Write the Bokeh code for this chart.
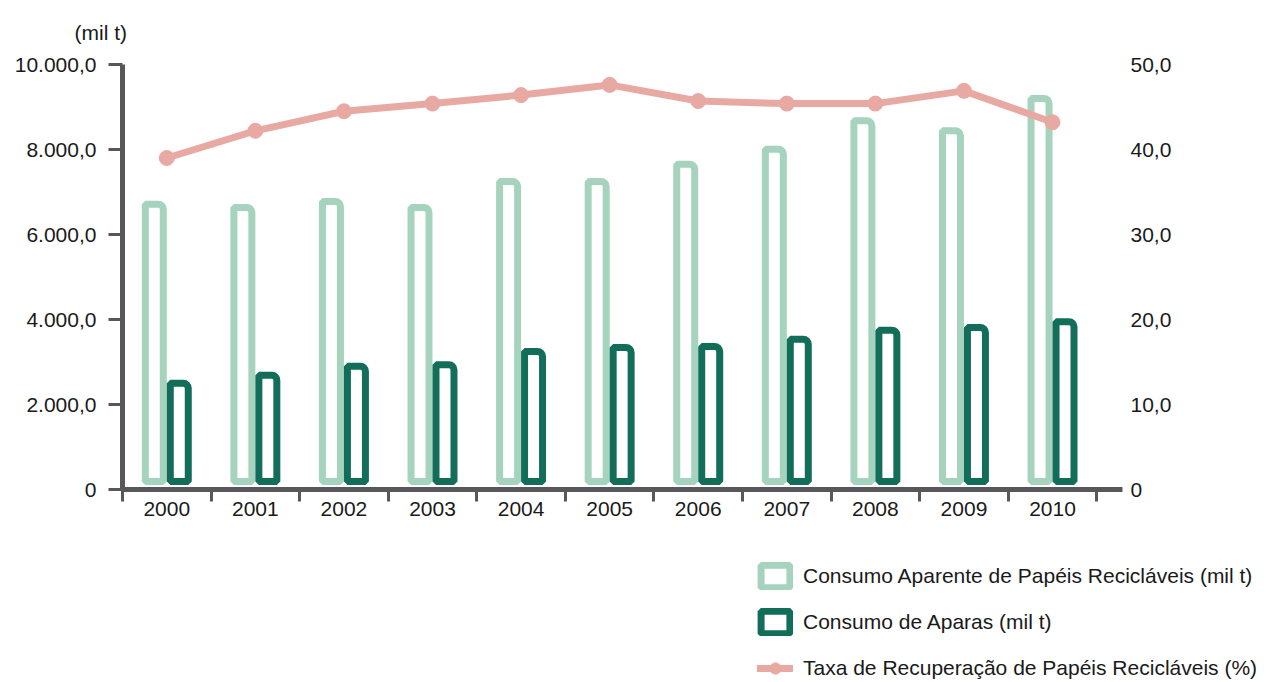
from bokeh.plotting import figure
from bokeh.models import (Range1d, LinearAxis, FixedTicker, Legend, LegendItem,
                          ColumnDataSource, Title)
from bokeh.transform import dodge
from bokeh.embed import file_html
from bokeh.resources import INLINE

# ---------------- data ----------------
years = [2000, 2001, 2002, 2003, 2004, 2005, 2006, 2007, 2008, 2009, 2010]
year_labels = ["2000", "2001", "2002", "2003", "2004", "2005",
               "2006", "2007", "2008", "2009", "2010"]
consumo_aparente = [6710, 6635, 6775, 6635, 7245, 7245, 7655, 8005, 8675, 8440, 9200]
consumo_aparas = [2500, 2690, 2900, 2935, 3245, 3340, 3365, 3535, 3750, 3810, 3945]
taxa_recuperacao = [39.0, 42.2, 44.5, 45.4, 46.4, 47.6, 45.7, 45.4, 45.4, 46.9, 43.2]

left_ticks = [0, 2000, 4000, 6000, 8000, 10000]
left_tick_labels = ["0", "2.000,0", "4.000,0", "6.000,0", "8.000,0", "10.000,0"]
right_ticks = [0, 10, 20, 30, 40, 50]
right_tick_labels = ["0", "10,0", "20,0", "30,0", "40,0", "50,0"]

series_names = ["Consumo Aparente de Papéis Recicláveis (mil t)",
                "Consumo de Aparas (mil t)",
                "Taxa de Recuperação de Papéis Recicláveis (%)"]
unit_label = "(mil t)"

# ---------------- style ----------------
FONT = "Liberation Sans"
TXT = "#1a1a1a"
AX = "#58585a"
LIGHT = "#a6d3be"
DARK = "#136e59"
PINK = "#e8a9a3"
FS = "21px"
BAR_BASELINE = 190   # bars start just above the axis line so their bottom edge shows
HIDDEN = float("nan")  # swatch-only renderers in the legend panel draw nothing

BAR_STYLE_1 = dict(fill_color="white", line_color=LIGHT, line_width=7, border_radius=(0, 5, 0, 0))
BAR_STYLE_2 = dict(fill_color="white", line_color=DARK, line_width=7, border_radius=(0, 5, 0, 0))
LINE_STYLE = dict(line_color=PINK, line_width=7, line_cap="round", line_join="round")
MARK_STYLE = dict(size=15, fill_color=PINK, line_color=PINK)

src = ColumnDataSource(dict(year=years, aparente=consumo_aparente,
                            aparas=consumo_aparas, taxa=taxa_recuperacao))

p = figure(width=1266, height=530, output_backend="svg", toolbar_location=None,
           x_range=Range1d(years[0] - 0.5, years[-1] + 0.79),
           y_range=Range1d(left_ticks[0], left_ticks[-1]),
           min_border_left=122, min_border_right=144,
           min_border_top=64, min_border_bottom=41)
p.extra_y_ranges = {"pct": Range1d(right_ticks[0], right_ticks[-1])}
p.outline_line_color = None
p.grid.visible = False
p.background_fill_color = "white"
p.border_fill_color = "white"

p.vbar(x=dodge("year", -0.141), top="aparente", bottom=BAR_BASELINE, width=0.203,
       source=src, **BAR_STYLE_1)
p.vbar(x=dodge("year", 0.141), top="aparas", bottom=BAR_BASELINE, width=0.203,
       source=src, **BAR_STYLE_2)
p.line("year", "taxa", source=src, y_range_name="pct", **LINE_STYLE)
p.scatter("year", "taxa", source=src, y_range_name="pct", **MARK_STYLE)

# unit label as a title above the left axis
p.add_layout(Title(text=unit_label, align="left", offset=-48, standoff=38,
                   vertical_align="top",
                   text_font=FONT, text_font_size=FS, text_font_style="normal",
                   text_color=TXT), "above")

# x axis
xa = p.xaxis[0]
xa.ticker = FixedTicker(ticks=years, minor_ticks=[y - 0.5 for y in years] + [years[-1] + 0.5])
xa.major_label_overrides = {y: l for y, l in zip(years, year_labels)}
xa.major_tick_out = 0
xa.major_tick_in = 0
xa.minor_tick_out = 12
xa.minor_tick_in = 0
xa.minor_tick_line_width = 3
xa.minor_tick_line_color = AX
xa.axis_line_width = 5
xa.axis_line_color = AX
xa.major_label_text_font = FONT
xa.major_label_text_font_size = FS
xa.major_label_text_color = TXT
xa.major_label_standoff = 0

# left axis
ya = p.yaxis[0]
ya.ticker = FixedTicker(ticks=left_ticks)
ya.major_label_overrides = {t: l for t, l in zip(left_ticks, left_tick_labels)}
ya.major_tick_out = 14
ya.major_tick_in = 0
ya.major_tick_line_width = 3
ya.major_tick_line_color = AX
ya.minor_tick_out = 0
ya.minor_tick_in = 0
ya.axis_line_width = 5
ya.axis_line_color = AX
ya.major_label_text_font = FONT
ya.major_label_text_font_size = FS
ya.major_label_text_color = TXT
ya.major_label_standoff = 12

# right axis
ra = LinearAxis(y_range_name="pct", ticker=FixedTicker(ticks=right_ticks))
ra.major_label_overrides = {t: l for t, l in zip(right_ticks, right_tick_labels)}
ra.axis_line_color = None
ra.major_tick_line_color = None
ra.minor_tick_line_color = None
ra.major_tick_out = 0
ra.major_tick_in = 0
ra.major_label_text_font = FONT
ra.major_label_text_font_size = FS
ra.major_label_text_color = TXT
ra.major_label_standoff = 8
p.add_layout(ra, "right")

# ---------------- legend panel (separate root, frame = whole panel) ----------------
lg = figure(width=1266, height=152, output_backend="svg", toolbar_location=None,
            x_range=Range1d(0, 1), y_range=Range1d(0, 1),
            x_axis_location=None, y_axis_location=None,
            min_border_left=0, min_border_right=0, min_border_top=0, min_border_bottom=0)
lg.outline_line_color = None
lg.grid.visible = False
lg.background_fill_color = "white"
lg.border_fill_color = "white"
# same series with no x position: nothing drawn, they only provide legend swatches
g1 = lg.vbar(x=HIDDEN, top="aparente", width=0.2, source=src, **BAR_STYLE_1)
g2 = lg.vbar(x=HIDDEN, top="aparas", width=0.2, source=src, **BAR_STYLE_2)
g3 = lg.line(x=HIDDEN, y="taxa", source=src, **LINE_STYLE)
g4 = lg.scatter(x=HIDDEN, y="taxa", source=src, **MARK_STYLE)

legend = Legend(items=[LegendItem(label=series_names[0], renderers=[g1]),
                       LegendItem(label=series_names[1], renderers=[g2]),
                       LegendItem(label=series_names[2], renderers=[g3, g4])],
                location=(757, 0), orientation="vertical",
                glyph_width=36, glyph_height=28, spacing=18, label_standoff=10,
                padding=0, margin=0, border_line_color=None,
                background_fill_alpha=0,
                label_text_font=FONT, label_text_font_size=FS,
                label_text_color=TXT)
lg.add_layout(legend)

open("out.html", "w").write(file_html([p, lg], INLINE))
